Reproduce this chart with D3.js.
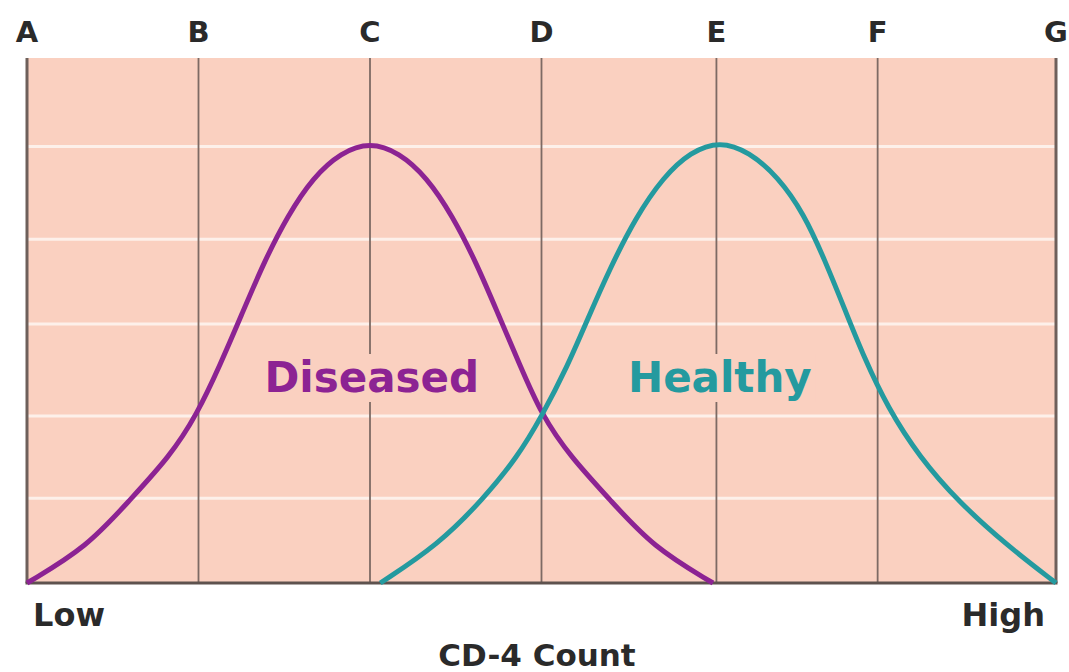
<!DOCTYPE html>
<html>
<head>
<meta charset="utf-8">
<script src="https://cdn.jsdelivr.net/npm/d3@7"></script>
<style>
  html, body { margin: 0; padding: 0; background: #fff; }
  svg { display: block; font-family: "DejaVu Sans", Verdana, sans-serif; font-weight: bold; }
</style>
</head>
<body>
<script>
// column letters along the top and where each divider sits (in CD-4 units)
const columns = ["A", "B", "C", "D", "E", "F", "G"];
const columnPos = [0, 1, 2, 3, 4.02, 4.96, 6];

// white horizontal guides (density units)
const guideLevels = [0.97, 1.91, 2.96, 3.93, 4.99];

// curves: [count, density]
const diseased = [
  [0, 0], [0.35, 0.41], [0.60, 0.95], [0.83, 1.44], [0.99, 1.92], [1.13, 2.51],
  [1.25, 3.06], [1.38, 3.66], [1.52, 4.20], [1.67, 4.64], [1.83, 4.92], [2.0, 5.04],
  [2.17, 4.92], [2.33, 4.64], [2.48, 4.20], [2.62, 3.66], [2.75, 3.06], [2.87, 2.51],
  [3.0, 1.92], [3.17, 1.44], [3.40, 0.95], [3.65, 0.41], [4.0, 0]
];
const healthy = [
  [2.06, 0], [2.40, 0.44], [2.66, 0.96], [2.86, 1.44], [3.0, 1.90], [3.15, 2.47],
  [3.27, 3.02], [3.40, 3.60], [3.55, 4.18], [3.71, 4.64], [3.87, 4.93], [4.04, 5.05],
  [4.21, 4.93], [4.38, 4.64], [4.53, 4.22], [4.65, 3.70], [4.77, 3.12], [4.88, 2.58],
  [5.02, 2.00], [5.20, 1.45], [5.43, 0.93], [5.72, 0.42], [6.0, 0]
];

const width = 1069, height = 672;
const margin = {top: 58, right: 13, bottom: 89, left: 27};

const svg = d3.select("body").append("svg")
  .attr("width", width)
  .attr("height", height);

const x = d3.scaleLinear().domain([0, 6]).range([margin.left, width - margin.right]);
const y = d3.scaleLinear().domain([0, 6]).range([height - margin.bottom, margin.top]);

const bg = "#fad0c0";

// plot background
svg.append("rect")
  .attr("x", x(0)).attr("y", y(6))
  .attr("width", x(6) - x(0)).attr("height", y(0) - y(6))
  .attr("fill", bg);

// white guides
svg.selectAll(".guide")
  .data(guideLevels)
  .enter().append("line")
  .attr("class", "guide")
  .attr("x1", x(0)).attr("x2", x(6))
  .attr("y1", d => y(d)).attr("y2", d => y(d))
  .attr("stroke", "#fdf0ea")
  .attr("stroke-width", 3);

// vertical dividers
svg.selectAll(".divider")
  .data(columnPos)
  .enter().append("line")
  .attr("class", "divider")
  .attr("x1", d => x(d)).attr("x2", d => x(d))
  .attr("y1", y(6)).attr("y2", y(0))
  .attr("stroke", (d, i) => (i === 0 || i === columnPos.length - 1) ? "#6e605b" : "#7d6a64")
  .attr("stroke-width", (d, i) => (i === 0 || i === columnPos.length - 1) ? 3 : 1.8);

// baseline
svg.append("line")
  .attr("x1", x(0) - 1.5).attr("x2", x(6) + 1.5)
  .attr("y1", y(0)).attr("y2", y(0))
  .attr("stroke", "#5e524e")
  .attr("stroke-width", 3);

// column letters
svg.selectAll(".col")
  .data(columns)
  .enter().append("text")
  .attr("class", "col")
  .attr("x", (d, i) => x(columnPos[i]))
  .attr("y", 42)
  .attr("text-anchor", "middle")
  .attr("font-size", 29)
  .attr("fill", "#2a2a2a")
  .text(d => d);

// curve labels with background patch that covers the divider
const labels = [
  {name: "Diseased", at: 2.01, color: "#8c2393"},
  {name: "Healthy", at: 4.04, color: "#249a9f"}
];
labels.forEach(l => {
  const g = svg.append("g");
  const t = g.append("text")
    .attr("x", x(l.at)).attr("y", 392)
    .attr("text-anchor", "middle")
    .attr("font-size", 42)
    .attr("fill", l.color)
    .text(l.name);
  const b = t.node().getBBox();
  g.insert("rect", "text")
    .attr("x", b.x - 4).attr("y", b.y + 1)
    .attr("width", b.width + 8).attr("height", b.height - 1)
    .attr("fill", bg);
});

const line = d3.line()
  .x(d => x(d[0]))
  .y(d => y(d[1]))
  .curve(d3.curveBasis);

svg.append("path")
  .datum(diseased)
  .attr("d", line)
  .attr("fill", "none")
  .attr("stroke", "#8c2393")
  .attr("stroke-width", 5);

svg.append("path")
  .datum(healthy)
  .attr("d", line)
  .attr("fill", "none")
  .attr("stroke", "#249a9f")
  .attr("stroke-width", 5);

// axis end labels and title
svg.append("text")
  .attr("x", 33).attr("y", 626)
  .attr("font-size", 32)
  .attr("fill", "#2a2a2a")
  .text("Low");

svg.append("text")
  .attr("x", 1045).attr("y", 626)
  .attr("text-anchor", "end")
  .attr("font-size", 32)
  .attr("fill", "#2a2a2a")
  .text("High");

svg.append("text")
  .attr("x", 537).attr("y", 666)
  .attr("text-anchor", "middle")
  .attr("font-size", 31)
  .attr("fill", "#2a2a2a")
  .text("CD-4 Count");
</script>
</body>
</html>
